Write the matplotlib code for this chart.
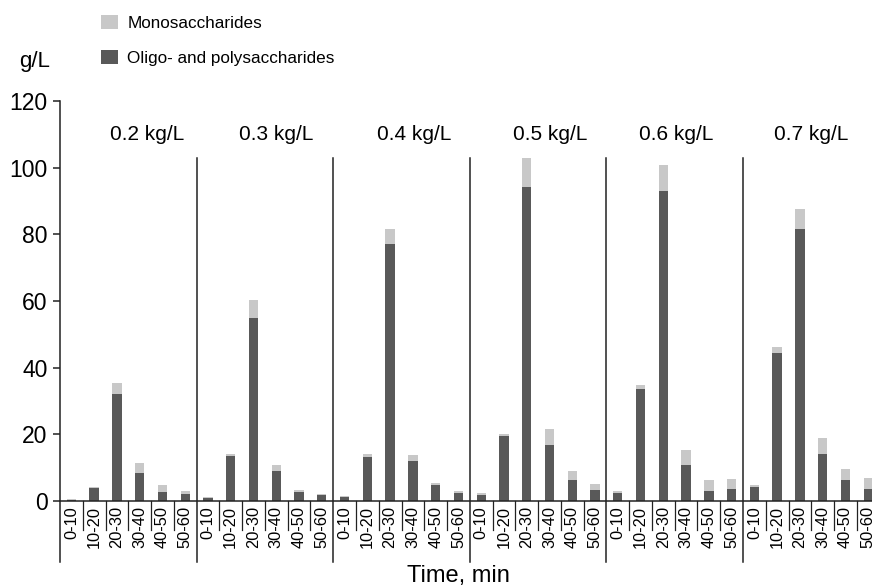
import numpy as np
import matplotlib
matplotlib.use("agg")
import matplotlib.pyplot as plt

plt.rcParams["font.family"] = ["Liberation Sans", "DejaVu Sans"]

loadings = ["0.2 kg/L", "0.3 kg/L", "0.4 kg/L", "0.5 kg/L", "0.6 kg/L", "0.7 kg/L"]
intervals = ["0-10", "10-20", "20-30", "30-40", "40-50", "50-60"]

# g/L per interval, one row per loading
oligo = [
    [0.3, 4.0, 32.1, 8.4, 2.6, 2.0],
    [0.8, 13.4, 55.0, 9.0, 2.8, 1.9],
    [1.1, 13.3, 77.1, 12.1, 4.9, 2.4],
    [1.9, 19.4, 94.3, 16.9, 6.3, 3.3],
    [2.4, 33.6, 93.0, 10.7, 3.1, 3.7],
    [4.3, 44.5, 81.6, 14.2, 6.3, 3.5],
]
mono = [
    [0.3, 0.1, 3.3, 3.0, 2.2, 1.1],
    [0.3, 0.7, 5.3, 1.7, 0.4, 0.2],
    [0.3, 0.8, 4.5, 1.6, 0.4, 0.6],
    [0.4, 0.7, 8.5, 4.7, 2.7, 1.7],
    [0.6, 1.2, 7.7, 4.5, 3.2, 2.9],
    [0.5, 1.7, 5.9, 4.7, 3.3, 3.3],
]

dark = "#595959"
light = "#c8c8c8"
line_c = "#222222"

n_int = len(intervals)
n_grp = len(loadings)
oligo_flat = np.array(oligo).ravel()
mono_flat = np.array(mono).ravel()
x = np.arange(n_grp * n_int) + 0.5

fig = plt.figure(figsize=(8.72, 5.88), dpi=100)
ax = fig.add_axes([60 / 872, 87 / 588, 819.6 / 872, 400 / 588])

ax.bar(x, oligo_flat, width=0.41, color=dark, label="Oligo- and polysaccharides")
ax.bar(x, mono_flat, width=0.41, bottom=oligo_flat, color=light, label="Monosaccharides")

ax.set_xlim(0, n_grp * n_int)
ax.set_ylim(0, 120)
for s in ax.spines.values():
    s.set_visible(False)

# axes drawn by hand so they can run below the baseline
ax.plot([0, 0], [-18.3, 120], color=line_c, lw=1.1, clip_on=False)
ax.plot([0, n_grp * n_int], [0, 0], color=line_c, lw=1.1, clip_on=False)
for k in range(1, n_grp * n_int):
    if k % n_int == 0:
        ax.plot([k, k], [-18.3, 102.9], color=line_c, lw=1.1, clip_on=False)
    else:
        ax.plot([k, k], [0, -8.7], color=line_c, lw=0.9, clip_on=False)

ax.set_yticks(np.arange(0, 121, 20))
ax.tick_params(axis="y", length=5, width=1.1, color=line_c, labelsize=16.5, pad=4)
ax.set_xticks(x)
ax.set_xticklabels(intervals * n_grp, rotation=90, fontsize=11.8)
ax.tick_params(axis="x", length=0, pad=3.5)

label_shift = [0.84, 0.49, 0.55, 0.52, 0.05, 0.0]
for i, name in enumerate(loadings):
    ax.text(i * n_int + n_int / 2 + label_shift[i], 109.8, name,
            ha="center", va="center", fontsize=15)

handles, labels = ax.get_legend_handles_labels()
fig.legend(handles[::-1], labels[::-1], loc="upper left",
           bbox_to_anchor=(101 / 872, 1 - 15 / 588), frameon=False,
           fontsize=12.3, borderpad=0, borderaxespad=0, handlelength=1.0,
           handleheight=0.9, handletextpad=0.55, labelspacing=1.1)

fig.text(35 / 872, 1 - 62 / 588, "g/L", ha="center", va="center", fontsize=16)
fig.text(458 / 872, 1 - 576 / 588, "Time, min", ha="center", va="center", fontsize=17)

plt.savefig("out.png", dpi=100)
